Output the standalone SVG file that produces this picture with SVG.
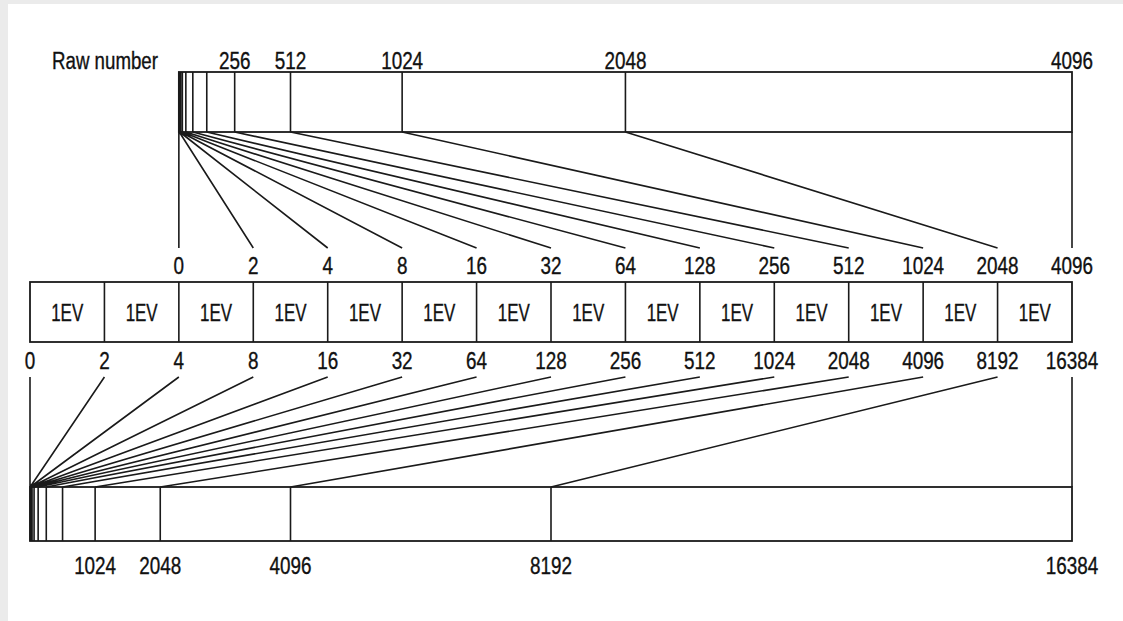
<svg xmlns="http://www.w3.org/2000/svg" width="1123" height="621" viewBox="0 0 1123 621">
<style>
.t{font-family:"Liberation Sans",Arial,sans-serif;font-size:23px;fill:#111;stroke:#111;stroke-width:0.35;text-anchor:middle}
.s{stroke:#1a1a1a;stroke-width:1.6;fill:none}
.b{stroke:#1a1a1a;stroke-width:1.8;fill:#fff}
</style>
<rect x="0" y="0" width="1123" height="621" fill="#ebebeb"/>
<rect x="8" y="4" width="1115" height="617" fill="#fff"/>

<g id="raw-bar">
<text class="t" x="52" y="69" style="text-anchor:start" textLength="106" lengthAdjust="spacingAndGlyphs">Raw number</text>
<rect class="b" x="178.86" y="72" width="893.14" height="60"/>
<path class="s" d="M179.30 72V132M179.73 72V132M180.60 72V132M182.35 72V132M185.84 72V132M192.82 72V132M206.77 72V132M234.68 72V132M290.5 72V132M402.14 72V132M625.43 72V132"/>
<text class="t" x="234.68" y="69" textLength="31.5" lengthAdjust="spacingAndGlyphs">256</text>
<text class="t" x="290.5" y="69" textLength="31.5" lengthAdjust="spacingAndGlyphs">512</text>
<text class="t" x="402.14" y="69" textLength="42" lengthAdjust="spacingAndGlyphs">1024</text>
<text class="t" x="625.43" y="69" textLength="42" lengthAdjust="spacingAndGlyphs">2048</text>
<text class="t" x="1072" y="69" textLength="42" lengthAdjust="spacingAndGlyphs">4096</text>
</g>

<g id="ev-row">
<rect class="b" x="30" y="282" width="1042" height="60"/>
<path class="s" d="M104.43 282V342M178.86 282V342M253.29 282V342M327.71 282V342M402.14 282V342M476.57 282V342M551 282V342M625.43 282V342M699.86 282V342M774.29 282V342M848.71 282V342M923.14 282V342M997.57 282V342"/>
<text class="t" x="67.21" y="320.5" textLength="32" lengthAdjust="spacingAndGlyphs">1EV</text>
<text class="t" x="141.64" y="320.5" textLength="32" lengthAdjust="spacingAndGlyphs">1EV</text>
<text class="t" x="216.07" y="320.5" textLength="32" lengthAdjust="spacingAndGlyphs">1EV</text>
<text class="t" x="290.5" y="320.5" textLength="32" lengthAdjust="spacingAndGlyphs">1EV</text>
<text class="t" x="364.93" y="320.5" textLength="32" lengthAdjust="spacingAndGlyphs">1EV</text>
<text class="t" x="439.36" y="320.5" textLength="32" lengthAdjust="spacingAndGlyphs">1EV</text>
<text class="t" x="513.79" y="320.5" textLength="32" lengthAdjust="spacingAndGlyphs">1EV</text>
<text class="t" x="588.21" y="320.5" textLength="32" lengthAdjust="spacingAndGlyphs">1EV</text>
<text class="t" x="662.64" y="320.5" textLength="32" lengthAdjust="spacingAndGlyphs">1EV</text>
<text class="t" x="737.07" y="320.5" textLength="32" lengthAdjust="spacingAndGlyphs">1EV</text>
<text class="t" x="811.5" y="320.5" textLength="32" lengthAdjust="spacingAndGlyphs">1EV</text>
<text class="t" x="885.93" y="320.5" textLength="32" lengthAdjust="spacingAndGlyphs">1EV</text>
<text class="t" x="960.36" y="320.5" textLength="32" lengthAdjust="spacingAndGlyphs">1EV</text>
<text class="t" x="1034.79" y="320.5" textLength="32" lengthAdjust="spacingAndGlyphs">1EV</text>
<text class="t" x="178.86" y="274" textLength="10.5" lengthAdjust="spacingAndGlyphs">0</text>
<text class="t" x="253.29" y="274" textLength="10.5" lengthAdjust="spacingAndGlyphs">2</text>
<text class="t" x="327.71" y="274" textLength="10.5" lengthAdjust="spacingAndGlyphs">4</text>
<text class="t" x="402.14" y="274" textLength="10.5" lengthAdjust="spacingAndGlyphs">8</text>
<text class="t" x="476.57" y="274" textLength="21" lengthAdjust="spacingAndGlyphs">16</text>
<text class="t" x="551" y="274" textLength="21" lengthAdjust="spacingAndGlyphs">32</text>
<text class="t" x="625.43" y="274" textLength="21" lengthAdjust="spacingAndGlyphs">64</text>
<text class="t" x="699.86" y="274" textLength="31.5" lengthAdjust="spacingAndGlyphs">128</text>
<text class="t" x="774.29" y="274" textLength="31.5" lengthAdjust="spacingAndGlyphs">256</text>
<text class="t" x="848.71" y="274" textLength="31.5" lengthAdjust="spacingAndGlyphs">512</text>
<text class="t" x="923.14" y="274" textLength="42" lengthAdjust="spacingAndGlyphs">1024</text>
<text class="t" x="997.57" y="274" textLength="42" lengthAdjust="spacingAndGlyphs">2048</text>
<text class="t" x="1072" y="274" textLength="42" lengthAdjust="spacingAndGlyphs">4096</text>
<text class="t" x="30" y="369" textLength="10.5" lengthAdjust="spacingAndGlyphs">0</text>
<text class="t" x="104.43" y="369" textLength="10.5" lengthAdjust="spacingAndGlyphs">2</text>
<text class="t" x="178.86" y="369" textLength="10.5" lengthAdjust="spacingAndGlyphs">4</text>
<text class="t" x="253.29" y="369" textLength="10.5" lengthAdjust="spacingAndGlyphs">8</text>
<text class="t" x="327.71" y="369" textLength="21" lengthAdjust="spacingAndGlyphs">16</text>
<text class="t" x="402.14" y="369" textLength="21" lengthAdjust="spacingAndGlyphs">32</text>
<text class="t" x="476.57" y="369" textLength="21" lengthAdjust="spacingAndGlyphs">64</text>
<text class="t" x="551" y="369" textLength="31.5" lengthAdjust="spacingAndGlyphs">128</text>
<text class="t" x="625.43" y="369" textLength="31.5" lengthAdjust="spacingAndGlyphs">256</text>
<text class="t" x="699.86" y="369" textLength="31.5" lengthAdjust="spacingAndGlyphs">512</text>
<text class="t" x="774.29" y="369" textLength="42" lengthAdjust="spacingAndGlyphs">1024</text>
<text class="t" x="848.71" y="369" textLength="42" lengthAdjust="spacingAndGlyphs">2048</text>
<text class="t" x="923.14" y="369" textLength="42" lengthAdjust="spacingAndGlyphs">4096</text>
<text class="t" x="997.57" y="369" textLength="42" lengthAdjust="spacingAndGlyphs">8192</text>
<text class="t" x="1072" y="369" textLength="52.5" lengthAdjust="spacingAndGlyphs">16384</text>
</g>

<g id="linear-bar">
<rect class="b" x="30" y="487" width="1042" height="54"/>
<path class="s" d="M30.13 487V541M30.25 487V541M30.51 487V541M31.02 487V541M32.04 487V541M34.07 487V541M38.14 487V541M46.28 487V541M62.56 487V541M95.13 487V541M160.25 487V541M290.5 487V541M551 487V541"/>
<text class="t" x="95.13" y="574" textLength="42" lengthAdjust="spacingAndGlyphs">1024</text>
<text class="t" x="160.25" y="574" textLength="42" lengthAdjust="spacingAndGlyphs">2048</text>
<text class="t" x="290.5" y="574" textLength="42" lengthAdjust="spacingAndGlyphs">4096</text>
<text class="t" x="551" y="574" textLength="42" lengthAdjust="spacingAndGlyphs">8192</text>
<text class="t" x="1072" y="574" textLength="52.5" lengthAdjust="spacingAndGlyphs">16384</text>
</g>

<g id="connectors">
<path class="s" d="M178.86 132L178.86 248M179.30 132L253.29 248M179.73 132L327.71 248M180.60 132L402.14 248M182.35 132L476.57 248M185.84 132L551 248M192.82 132L625.43 248M206.77 132L699.86 248M234.68 132L774.29 248M290.5 132L848.71 248M402.14 132L923.14 248M625.43 132L997.57 248M1072 132L1072 248"/>
<path class="s" d="M30 377L30 487M104.43 377L30.13 487M178.86 377L30.25 487M253.29 377L30.51 487M327.71 377L31.02 487M402.14 377L32.04 487M476.57 377L34.07 487M551 377L38.14 487M625.43 377L46.28 487M699.86 377L62.56 487M774.29 377L95.13 487M848.71 377L160.25 487M923.14 377L290.5 487M997.57 377L551 487M1072 377L1072 487"/>
</g>
</svg>
